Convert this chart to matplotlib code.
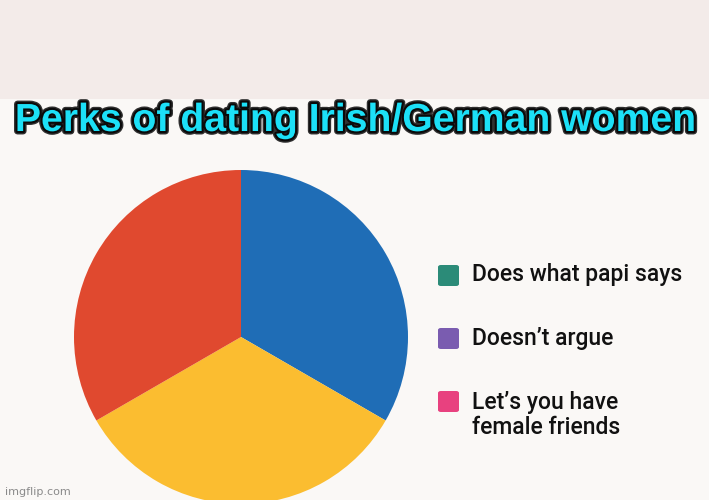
import matplotlib.pyplot as plt
import matplotlib.patheffects as pe
from matplotlib.patches import FancyBboxPatch, Rectangle

# data
slice_values = [1, 1, 1]
slice_colors = ["#1f6db6", "#fbbd30", "#e0492f"]  # blue, yellow, red
legend_labels = ["Does what papi says", "Doesn\u2019t argue", "Let\u2019s you have\nfemale friends"]
legend_colors = ["#2b8b78", "#7a5cb0", "#e8417f"]
title = "Perks of dating Irish/German women"

W, H = 709, 500
fig = plt.figure(figsize=(W / 100, H / 100), dpi=100)
fig.patch.set_facecolor("#faf8f6")

# horni pruh
fig.patches.append(Rectangle((0, 1 - 99 / H), 1, 99 / H, transform=fig.transFigure,
                             facecolor="#f3ebe9", edgecolor="none", zorder=0))

# kolac - stred (241, 337), polomer 167 px
cx, cy, r = 241, 337, 167
ax = fig.add_axes([(cx - r) / W, (H - cy - r) / H, 2 * r / W, 2 * r / H])
ax.pie(slice_values, colors=slice_colors, startangle=90, counterclock=False,
       radius=1, wedgeprops=dict(linewidth=0))
ax.set_xlim(-1, 1)
ax.set_ylim(-1, 1)
ax.set_aspect("equal")
ax.axis("off")

# nadpis
fig.text(355 / W, 1 - 121 / H, title, ha="center", va="center",
         fontsize=28.2, fontweight="bold", family="Liberation Sans", color="#1ce0f7",
         path_effects=[pe.withStroke(linewidth=5, foreground="#303030"),
                       pe.withStroke(linewidth=3, foreground="#0a0a0a")])

# legenda (farby nesedia s kolacom - to je vtip)
sq_y = [275, 338, 401]
txt_y = [275, 338, 415]
for i in range(len(legend_labels)):
    y = sq_y[i]
    box = FancyBboxPatch(((438) / W, 1 - (y + 11) / H), 21 / W, 21 / H,
                         boxstyle="round,pad=0,rounding_size=0.004",
                         transform=fig.transFigure, facecolor=legend_colors[i],
                         edgecolor="none")
    fig.patches.append(box)
    fig.text(472 / W, 1 - txt_y[i] / H, legend_labels[i], ha="left", va="center",
             fontsize=16.5, family="Roboto", fontweight="medium", color="#111111",
             linespacing=1.15)

# vodoznak
fig.text(5 / W, 1 - 492 / H, "imgflip.com", ha="left", va="center",
         fontsize=8, family="DejaVu Sans", color="#8a8a8a")

fig.savefig("out.png", dpi=100, facecolor=fig.get_facecolor())
